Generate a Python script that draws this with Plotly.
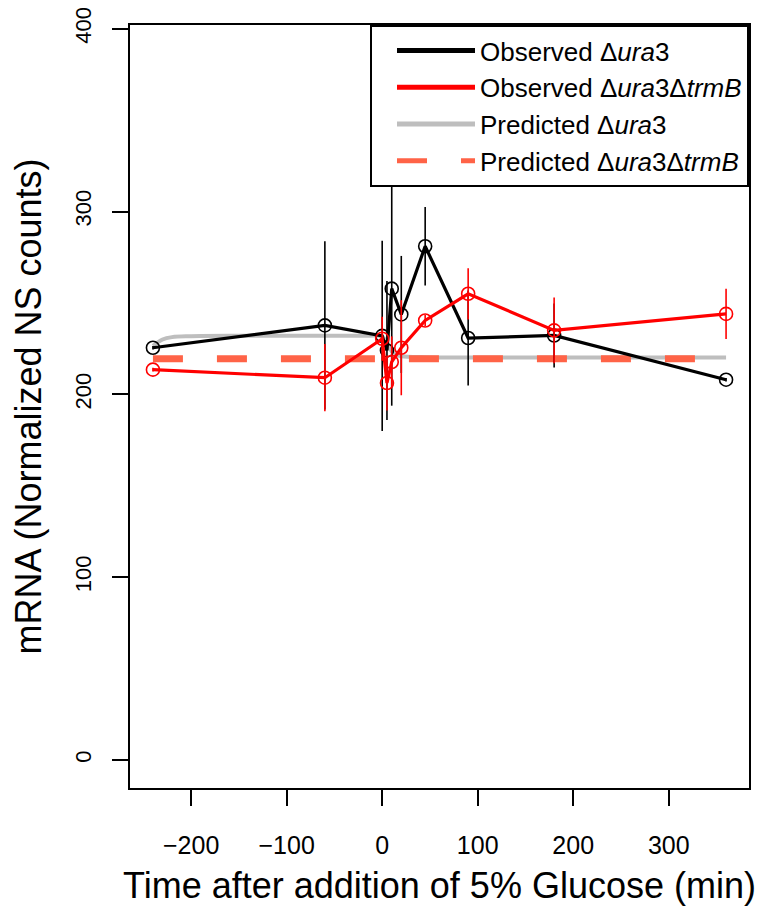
import plotly.graph_objects as go

# ---- data ----
time_obs = [-240, -60, 0, 5, 10, 20, 45, 90, 180, 360]

obs_ura3 = [225.5, 237.7, 232.0, 224.0, 257.8, 243.7, 281.0, 230.8, 232.2, 208.0]
obs_ura3_err = [1.0, 46.0, 52.0, 38.0, 64.0, 32.0, 21.5, 26.0, 17.5, 1.0]

obs_trmB = [213.5, 209.1, 230.4, 206.2, 217.7, 225.5, 240.4, 255.0, 235.0, 244.0]
obs_trmB_err = [1.0, 18.4, 12.0, 15.0, 14.0, 26.0, 3.0, 14.0, 18.0, 13.7]

time_pred = [-240, -230, -220, -200, -150, -100, -60, -20, 0, 5, 10, 15, 20, 45, 90, 180, 360]
pred_ura3 = [226.5, 230.0, 231.3, 231.8, 232.0, 232.0, 232.0, 232.0, 231.5, 228.0,
             223.5, 221.5, 220.8, 220.3, 220.2, 220.2, 220.2]

time_pred_trmB = [-240, 360]
pred_trmB = [219.5, 219.5]

x_ticks = [-200, -100, 0, 100, 200, 300]
y_ticks = [0, 100, 200, 300, 400]

FONT = "Liberation Sans, Arial, Helvetica, sans-serif"

fig = go.Figure()

fig.add_trace(go.Scatter(
    x=time_pred, y=pred_ura3, mode="lines", line=dict(color="#BEBEBE", width=4, shape="spline"),
    name="Predicted Δ<i>ura</i>3", legendrank=3))
fig.add_trace(go.Scatter(
    x=time_pred_trmB, y=pred_trmB, mode="lines",
    line=dict(color="#FF6347", width=7, dash="30px,34px"),
    name="Predicted Δ<i>ura</i>3Δ<i>trmB</i>", legendrank=4))

for xs, ys, errs, col, nm, rk in [
    (time_obs, obs_ura3, obs_ura3_err, "#000000", "Observed Δ<i>ura</i>3", 1),
    (time_obs, obs_trmB, obs_trmB_err, "#FF0000", "Observed Δ<i>ura</i>3Δ<i>trmB</i>", 2),
]:
    fig.add_trace(go.Scatter(
        x=xs, y=ys, mode="lines", line=dict(color=col, width=3.2),
        name=nm, legendrank=rk))
    fig.add_trace(go.Scatter(
        x=xs, y=ys, mode="markers",
        marker=dict(symbol="circle-open", size=13, color=col, line=dict(width=1.6, color=col)),
        error_y=dict(type="data", array=errs, visible=True, width=0, thickness=1.6, color=col),
        showlegend=False, name=nm))

# the page body has an 8px margin, so the figure is 8px smaller than the window
fig.update_layout(
    width=762, height=911,
    margin=dict(l=122, r=21, t=17, b=131),
    paper_bgcolor="white", plot_bgcolor="white",
    font=dict(family=FONT, color="black", size=25),
    showlegend=True,
    legend=dict(
        x=1, y=1, xanchor="right", yanchor="top",
        bgcolor="white", bordercolor="black", borderwidth=2,
        font=dict(size=26, family=FONT), itemwidth=78, indentation=20,
        tracegroupgap=0, itemsizing="constant",
    ),
    xaxis=dict(
        range=[-264, 384], tickvals=x_ticks, ticks="outside", ticklen=16, tickwidth=1.6,
        tickcolor="black", showline=True, linecolor="black", linewidth=2, mirror=True,
        showgrid=False, zeroline=False, tickfont=dict(size=25), automargin=False,
        ticklabelstandoff=18, ticklabeloverflow="allow",
        title=dict(text="Time after addition of 5% Glucose (min)", font=dict(size=36), standoff=15),
    ),
    yaxis=dict(
        range=[-15.3, 402], tickvals=y_ticks, ticks="outside", ticklen=16, tickwidth=1.6,
        tickcolor="black", showline=True, linecolor="black", linewidth=2, mirror=True,
        showgrid=False, zeroline=False, tickfont=dict(size=22), tickangle=-90, automargin=False,
        ticklabelstandoff=12, ticklabeloverflow="allow",
        title=dict(text="mRNA (Normalized NS counts)", font=dict(size=36), standoff=22),
    ),
)

fig.write_html("out.html")
